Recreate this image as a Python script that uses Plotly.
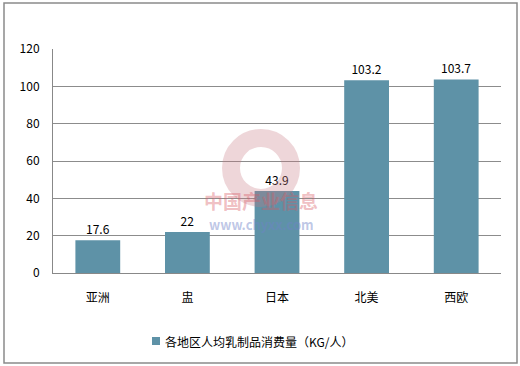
import plotly.graph_objects as go

categories = ["亚洲", "盅", "日本", "北美", "西欧"]
values = [17.6, 22, 43.9, 103.2, 103.7]
value_labels = ["17.6", "22", "43.9", "103.2", "103.7"]
series_name = "各地区人均乳制品消费量（KG/人）"
y_ticks = [0, 20, 40, 60, 80, 100, 120]

font_family = "Noto Sans CJK SC, Noto Sans, sans-serif"
bar_color = "#5E92A7"

fig = go.Figure()
fig.add_trace(go.Bar(
    x=categories, y=values, name=series_name,
    marker=dict(color=bar_color, line=dict(width=0)),
    width=0.5,
    text=value_labels, textposition="outside",
    textfont=dict(size=12, color="#000000", family=font_family),
    cliponaxis=False, showlegend=False,
))

fig.update_layout(
    width=520, height=366,
    margin=dict(l=53, r=19, t=49, b=93),
    paper_bgcolor="white", plot_bgcolor="white",
    font=dict(family=font_family, size=12, color="#000000"),
    showlegend=False,
    xaxis=dict(showgrid=False, showline=True, linecolor="#888888", linewidth=1,
               ticks="", tickfont=dict(size=12), ticklabelstandoff=14),
    yaxis=dict(range=[0, 120], tickvals=y_ticks, showgrid=True, gridcolor="#8C8C8C",
               gridwidth=1, showline=True, linecolor="#888888", linewidth=1,
               zeroline=False, ticks="", tickfont=dict(size=12), ticklabelstandoff=10),
    bargap=0.5,
)

# outer frame
fig.add_shape(type="rect", xref="paper", yref="paper",
              x0=(4 - 53) / 448, x1=(517 - 53) / 448, y0=(273 - 363) / 224, y1=(273 - 3) / 224,
              line=dict(color="#8A8A8A", width=1.5), fillcolor="rgba(0,0,0,0)")

# legend (drawn manually to match the compact marker spacing)
fig.add_shape(type="rect", xref="paper", yref="paper", xsizemode="pixel", ysizemode="pixel",
              xanchor=(156 - 53) / 448, yanchor=(273 - 341) / 224,
              x0=-4, x1=4, y0=-4, y1=4,
              fillcolor=bar_color, line=dict(width=0))
fig.add_annotation(text=series_name, xref="paper", yref="paper",
                   x=(163 - 53) / 448, y=(273 - 341) / 224, xanchor="left", yanchor="middle",
                   showarrow=False, font=dict(size=12, color="#000000", family=font_family))

# watermark
cx, cy = (261 - 53) / 448, (273 - 168) / 224
fig.add_shape(type="circle", xref="paper", yref="paper", xsizemode="pixel", ysizemode="pixel",
              xanchor=cx, yanchor=cy, x0=-30, x1=30, y0=-30, y1=30,
              line=dict(color="rgba(200,120,130,0.30)", width=18),
              fillcolor="rgba(0,0,0,0)")
fig.add_annotation(text="<b>中国产业信息</b>", xref="paper", yref="paper", x=cx, y=(273 - 216) / 224,
                   showarrow=False, font=dict(size=19, color="rgba(215,90,100,0.4)", family=font_family))
fig.add_annotation(text="<b>www.chyxx.com</b>", xref="paper", yref="paper", x=cx, y=(273 - 236) / 224,
                   showarrow=False, font=dict(size=13, color="rgba(110,130,200,0.45)", family=font_family))

fig.write_html("out.html")
